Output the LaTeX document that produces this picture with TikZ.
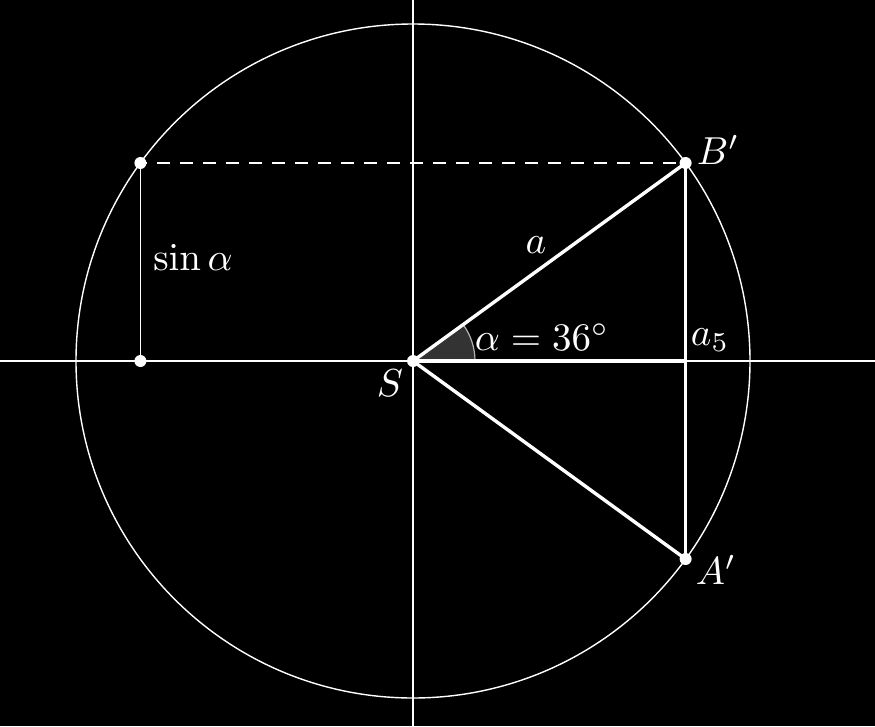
\documentclass[tikz,border=0pt]{standalone}
\usepackage{graphicx}
\newcommand{\bigtx}[1]{\scalebox{3.9}{#1}}
\begin{document}
\begin{tikzpicture}[x=1pt,y=-1pt,
  thinl/.style={white,line width=1.6pt},
  thickl/.style={white,line width=3.4pt},
  dot/.style={circle,fill=white,inner sep=0pt,minimum size=12pt},
  lab/.style={white,inner sep=0pt}]
\fill[black] (0,0) rectangle (875,726);
\useasboundingbox (0,0) rectangle (875,726);
\coordinate (S) at (413,361);
\coordinate (Bp) at (685.6,163);
\coordinate (Ap) at (685.6,559);
\coordinate (F) at (685.6,361);
\coordinate (L) at (140.4,163);
\coordinate (Lb) at (140.4,361);
\coordinate (XL) at (0,361);
\coordinate (XR) at (875,361);
\coordinate (YT) at (413,0);
\coordinate (YB) at (413,726);
% angle wedge
\fill[fill=black!80!white] (S) -- (475,361) arc[start angle=0,end angle=-36,radius=62] -- cycle;
\draw[white!70!black,line width=1.2pt] (475,361) arc[start angle=0,end angle=-36,radius=62];
% axes and circle
\draw[thinl] (XL) -- (XR);
\draw[thinl] (YT) -- (YB);
\draw[white,line width=1.4pt] (S) circle[radius=337];
% construction
\draw[thinl] (L) -- (Lb);
\draw[white,line width=1.4pt,dash pattern=on 13pt off 10pt,dash phase=-17pt] (L) -- (Bp);
\draw[thickl] (S) -- (Bp);
\draw[thickl] (S) -- (Ap);
\draw[thickl] (S) -- (F);
\draw[thickl] (Bp) -- (Ap);
% dots
\node[dot] (dS) at (S) {};
\node[dot] (dB) at (Bp) {};
\node[dot] (dA) at (Ap) {};
\node[dot] (dL) at (L) {};
\node[dot] (dLb) at (Lb) {};
% labels
\node[lab] (tB) at (718,150) {\bigtx{$B'$}};
\node[lab] (tA) at (716,570) {\bigtx{$A'$}};
\node[lab] (tS) at (390,383) {\bigtx{$S$}};
\node[lab] (ta) at (536,245) {\bigtx{$a$}};
\node[lab] (ta5) at (710,340) {\bigtx{$a_5$}};
\node[lab] (tsin) at (193,257) {\bigtx{$\sin\alpha$}};
\node[lab] (tang) at (542,337) {\bigtx{$\alpha=36^\circ$}};
\end{tikzpicture}
\end{document}
